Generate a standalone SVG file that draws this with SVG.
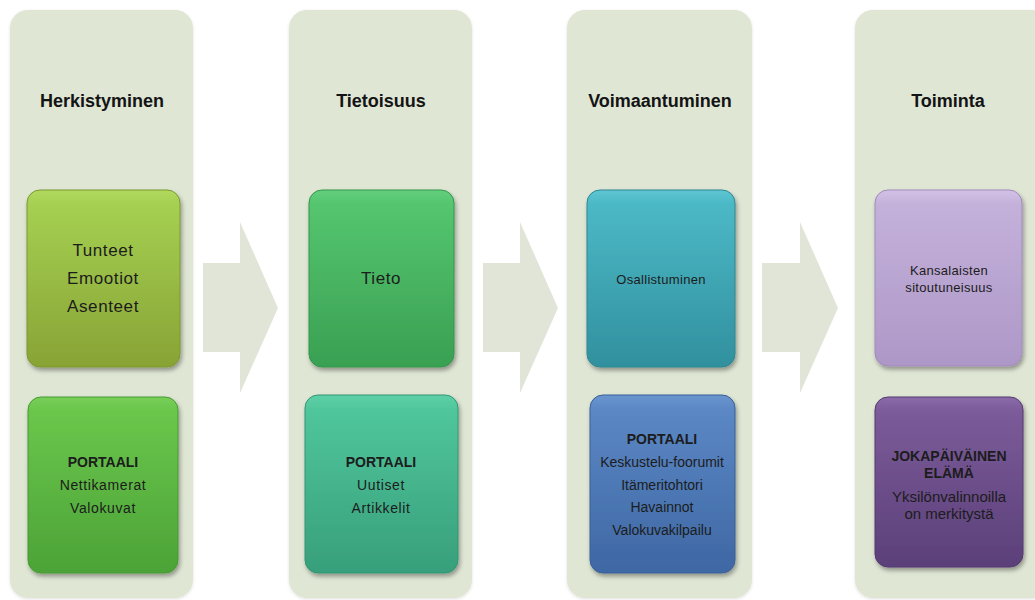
<svg xmlns="http://www.w3.org/2000/svg" width="1035" height="600" viewBox="0 0 1035 600">
<defs>
<style>
.panel{fill:#dfe6d4;}
.arrow{fill:#e0e5d8;}
.title{font-family:"Liberation Sans",Arial,sans-serif;font-weight:bold;font-size:18px;fill:#141414;text-anchor:middle;}
.t{font-family:"Liberation Sans",Arial,sans-serif;fill:#1c1c1c;text-anchor:middle;}
.big{font-size:17px;letter-spacing:0.6px;}
.mid{font-size:13px;letter-spacing:0.3px;}
.sm{font-size:14px;letter-spacing:0.6px;}
.sm0{font-size:14px;}
.b{font-weight:bold;letter-spacing:0;}
.box{filter:url(#sh);stroke-width:1;}
</style>
<filter id="sh" x="-10%" y="-10%" width="125%" height="125%">
<feDropShadow dx="1.5" dy="3" stdDeviation="2" flood-color="#000" flood-opacity="0.35"/>
</filter>
<filter id="psh" x="-5%" y="-5%" width="110%" height="110%">
<feDropShadow dx="0" dy="1" stdDeviation="1.5" flood-color="#000" flood-opacity="0.12"/>
</filter>
<linearGradient id="g1" x1="0" y1="0" x2="0" y2="1"><stop offset="0" stop-color="#b0d95e"/><stop offset="0.08" stop-color="#a5d052"/><stop offset="1" stop-color="#88a335"/></linearGradient>
<linearGradient id="g2" x1="0" y1="0" x2="0" y2="1"><stop offset="0" stop-color="#78cf58"/><stop offset="0.08" stop-color="#6ac64c"/><stop offset="1" stop-color="#4ca337"/></linearGradient>
<linearGradient id="g3" x1="0" y1="0" x2="0" y2="1"><stop offset="0" stop-color="#62cf7c"/><stop offset="0.08" stop-color="#55c56f"/><stop offset="1" stop-color="#39a052"/></linearGradient>
<linearGradient id="g4" x1="0" y1="0" x2="0" y2="1"><stop offset="0" stop-color="#5ed0a8"/><stop offset="0.08" stop-color="#50c69c"/><stop offset="1" stop-color="#379f7b"/></linearGradient>
<linearGradient id="g5" x1="0" y1="0" x2="0" y2="1"><stop offset="0" stop-color="#5ec6d2"/><stop offset="0.08" stop-color="#4cb8c6"/><stop offset="1" stop-color="#31909e"/></linearGradient>
<linearGradient id="g6" x1="0" y1="0" x2="0" y2="1"><stop offset="0" stop-color="#6a95cf"/><stop offset="0.08" stop-color="#5b88c5"/><stop offset="1" stop-color="#3e67a3"/></linearGradient>
<linearGradient id="g7" x1="0" y1="0" x2="0" y2="1"><stop offset="0" stop-color="#d3c2e6"/><stop offset="0.08" stop-color="#c4b1da"/><stop offset="1" stop-color="#ad97c7"/></linearGradient>
<linearGradient id="g8" x1="0" y1="0" x2="0" y2="1"><stop offset="0" stop-color="#8b6ca9"/><stop offset="0.08" stop-color="#7b5b99"/><stop offset="1" stop-color="#5b4079"/></linearGradient>
</defs>
<rect width="1035" height="600" fill="#ffffff"/>

<g id="connectors">
<polygon class="arrow" points="203,263 240,263 240,222 278,308 240,393 240,352 203,352"/>
<polygon class="arrow" points="483,263 520,263 520,222 558,308 520,393 520,352 483,352"/>
<polygon class="arrow" points="762,263 800,263 800,222 838,308 800,393 800,352 762,352"/>
</g>

<g id="col1">
<rect class="panel" filter="url(#psh)" x="10" y="10" width="183" height="588" rx="18"/>
<text class="title" x="102" y="107">Herkistyminen</text>
<g id="herk-top">
<rect class="box" x="27" y="190" width="153" height="177" rx="13" fill="url(#g1)" stroke="#7d9830"/>
<text class="t big" x="103" y="256">Tunteet</text>
<text class="t big" x="103" y="284">Emootiot</text>
<text class="t big" x="103" y="312">Asenteet</text>
</g>
<g id="herk-bottom">
<rect class="box" x="28" y="397" width="150" height="176" rx="13" fill="url(#g2)" stroke="#479a33"/>
<text class="t sm b" x="103" y="467">PORTAALI</text>
<text class="t sm" x="103" y="490">Nettikamerat</text>
<text class="t sm" x="103" y="513">Valokuvat</text>
</g>
</g>

<g id="col2">
<rect class="panel" filter="url(#psh)" x="289" y="10" width="183" height="588" rx="18"/>
<text class="title" x="381" y="107">Tietoisuus</text>
<g id="tiet-top">
<rect class="box" x="309" y="190" width="145" height="177" rx="13" fill="url(#g3)" stroke="#36954d"/>
<text class="t big" x="381" y="284">Tieto</text>
</g>
<g id="tiet-bottom">
<rect class="box" x="305" y="395" width="153" height="178" rx="13" fill="url(#g4)" stroke="#349573"/>
<text class="t sm b" x="381" y="467">PORTAALI</text>
<text class="t sm" x="381" y="490">Uutiset</text>
<text class="t sm" x="381" y="513">Artikkelit</text>
</g>
</g>

<g id="col3">
<rect class="panel" filter="url(#psh)" x="567" y="10" width="185" height="588" rx="18"/>
<text class="title" x="660" y="107">Voimaantuminen</text>
<g id="voim-top">
<rect class="box" x="587" y="190" width="148" height="177" rx="13" fill="url(#g5)" stroke="#2e8692"/>
<text class="t mid" x="661" y="284">Osallistuminen</text>
</g>
<g id="voim-bottom">
<rect class="box" x="590" y="395" width="145" height="178" rx="13" fill="url(#g6)" stroke="#3a6098"/>
<text class="t sm0 b" x="662" y="444">PORTAALI</text>
<text class="t sm0" x="662" y="467">Keskustelu-foorumit</text>
<text class="t sm0" x="662" y="490">Itämeritohtori</text>
<text class="t sm0" x="662" y="512">Havainnot</text>
<text class="t sm0" x="662" y="535">Valokuvakilpailu</text>
</g>
</g>

<g id="col4">
<rect class="panel" filter="url(#psh)" x="855" y="10" width="195" height="588" rx="18"/>
<text class="title" x="948" y="107">Toiminta</text>
<g id="toim-top">
<rect class="box" x="875" y="190" width="147" height="176" rx="13" fill="url(#g7)" stroke="#a08bbb"/>
<text class="t mid" x="949" y="275">Kansalaisten</text>
<text class="t mid" x="949" y="292">sitoutuneisuus</text>
</g>
<g id="toim-bottom">
<rect class="box" x="875" y="397" width="148" height="170" rx="13" fill="url(#g8)" stroke="#553a70"/>
<text class="t sm0 b" x="949" y="461">JOKAPÄIVÄINEN</text>
<text class="t sm0 b" x="949" y="478">ELÄMÄ</text>
<text class="t sm0" x="949" y="502" style="font-size:15px">Yksilönvalinnoilla</text>
<text class="t sm0" x="949" y="519" style="font-size:15px">on merkitystä</text>
</g>
</g>
</svg>
